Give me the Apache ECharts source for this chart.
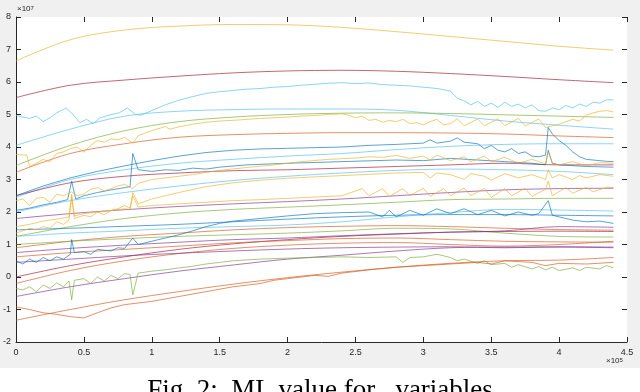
<!DOCTYPE html>
<html><head><meta charset="utf-8">
<script src="https://cdn.jsdelivr.net/npm/echarts@6/dist/echarts.min.js"></script>
<style>html,body{margin:0;padding:0;background:#fff}#c{width:640px;height:392px}</style>
</head><body><div id="c"></div>
<script>
// x in units of 1e5, y in units of 1e7
const xCoarse = [0, 0.4, 0.8, 1.2, 1.6, 2.0, 2.4, 2.8, 3.2, 3.6, 4.0, 4.4];

const yellowTop  = [6.65, 7.3, 7.6, 7.72, 7.77, 7.76, 7.68, 7.55, 7.4, 7.25, 7.1, 6.98];
const darkRedTop = [5.52, 5.9, 6.06, 6.18, 6.28, 6.34, 6.36, 6.33, 6.26, 6.17, 6.07, 5.98];
const lightBlueD = [4.05, 4.55, 4.95, 5.1, 5.15, 5.17, 5.17, 5.13, 4.97, 4.8, 4.67, 4.55];
const greenE     = [3.43, 4.05, 4.5, 4.78, 4.92, 5.0, 5.04, 5.05, 5.03, 4.99, 4.95, 4.91];
const orangeG    = [3.22, 3.8, 4.1, 4.3, 4.38, 4.42, 4.44, 4.44, 4.43, 4.4, 4.34, 4.29];
const lightBlueI = [2.45, 3.0, 3.3, 3.5, 3.62, 3.72, 3.8, 3.92, 4.02, 4.08, 4.1, 4.1];
const darkRedL   = [2.5, 2.9, 3.1, 3.2, 3.27, 3.3, 3.35, 3.4, 3.45, 3.5, 3.45, 3.45];
const lightBlueM = [2.0, 2.35, 2.6, 2.8, 2.97, 3.1, 3.2, 3.28, 3.32, 3.3, 3.25, 3.15];
const purpleP    = [1.8, 1.95, 2.07, 2.17, 2.25, 2.32, 2.4, 2.5, 2.6, 2.68, 2.72, 2.73];
const greenQ     = [1.25, 1.55, 1.8, 1.97, 2.08, 2.15, 2.22, 2.3, 2.38, 2.4, 2.42, 2.42];
const blueR      = [1.45, 1.5, 1.56, 1.62, 1.7, 1.78, 1.85, 1.9, 1.92, 1.92, 1.9, 1.88];
const lightBlueS = [1.25, 1.35, 1.42, 1.5, 1.55, 1.6, 1.7, 1.85, 1.98, 2.08, 2.06, 2.03];
const orangeT    = [0.9, 1.1, 1.25, 1.35, 1.45, 1.52, 1.56, 1.58, 1.55, 1.5, 1.46, 1.44];
const greenV     = [1.0, 1.1, 1.18, 1.25, 1.3, 1.35, 1.42, 1.5, 1.48, 1.35, 1.25, 1.23];
const darkRedW   = [0.0, 0.35, 0.62, 0.85, 1.02, 1.15, 1.25, 1.32, 1.38, 1.4, 1.41, 1.4];
const purpleX    = [0.75, 0.88, 0.98, 1.07, 1.15, 1.2, 1.27, 1.33, 1.38, 1.42, 1.55, 1.53];
const orangeY    = [0.62, 0.75, 0.85, 0.95, 1.05, 1.12, 1.18, 1.2, 1.15, 1.1, 1.08, 1.07];
const redZ       = [-0.2, 0.2, 0.5, 0.72, 0.88, 0.98, 1.04, 1.06, 1.0, 0.95, 1.0, 1.1];
const purpleAA   = [0.45, 0.55, 0.65, 0.73, 0.8, 0.86, 0.9, 0.92, 0.93, 0.9, 0.93, 0.92];
const purpleAB   = [-0.6, -0.3, -0.05, 0.18, 0.37, 0.55, 0.67, 0.8, 0.9, 0.92, 0.92, 0.9];
const orangeAE   = [-1.33, -1.0, -0.7, -0.45, -0.22, -0.02, 0.15, 0.3, 0.42, 0.5, 0.52, 0.6];

// noisy series as [x, y] pairs
const lightBlueC = [[0,4.97],[0.05,4.92],[0.1,4.88],[0.15,4.95],[0.2,4.78],[0.25,4.9],[0.3,5.05],[0.37,5.2],[0.42,5.0],[0.47,4.75],[0.52,4.85],[0.57,4.72],[0.62,4.9],[0.7,5.0],[0.76,5.05],[0.82,5.2],[0.88,5.0],[0.92,4.98],[1.0,5.12],[1.1,5.3],[1.2,5.44],[1.3,5.55],[1.4,5.65],[1.5,5.7],[1.6,5.74],[1.7,5.78],[1.8,5.8],[1.9,5.84],[2.0,5.86],[2.1,5.9],[2.2,5.93],[2.3,5.96],[2.4,5.98],[2.5,5.95],[2.6,5.97],[2.7,5.92],[2.8,5.9],[2.9,5.88],[3.0,5.84],[3.1,5.8],[3.2,5.72],[3.25,5.5],[3.3,5.42],[3.35,5.3],[3.4,5.4],[3.45,5.25],[3.5,5.35],[3.55,5.22],[3.6,5.38],[3.65,5.25],[3.7,5.32],[3.75,5.2],[3.8,5.3],[3.85,5.12],[3.9,5.1],[3.95,5.2],[4.0,5.15],[4.05,5.28],[4.1,5.2],[4.15,5.32],[4.2,5.25],[4.25,5.38],[4.3,5.35],[4.35,5.45],[4.4,5.45]];
const yellowF = [[0,3.77],[0.08,3.75],[0.1,3.4],[0.15,3.5],[0.2,3.62],[0.25,3.55],[0.3,3.8],[0.35,3.85],[0.4,3.95],[0.45,4.0],[0.5,3.84],[0.55,4.05],[0.6,4.2],[0.65,4.15],[0.7,4.25],[0.75,4.22],[0.8,4.3],[0.86,4.12],[0.9,4.35],[1.0,4.5],[1.1,4.63],[1.13,4.55],[1.2,4.62],[1.3,4.7],[1.4,4.76],[1.5,4.8],[1.6,4.82],[1.7,4.85],[1.8,4.88],[1.9,4.9],[2.0,4.92],[2.1,4.95],[2.2,4.97],[2.3,5.0],[2.4,5.02],[2.45,4.98],[2.5,4.9],[2.55,4.95],[2.6,4.82],[2.65,4.85],[2.7,4.76],[2.75,4.82],[2.8,4.78],[2.85,4.85],[2.9,4.72],[2.95,4.75],[3.0,4.68],[3.05,4.78],[3.1,4.85],[3.15,4.68],[3.2,4.72],[3.25,4.87],[3.3,4.65],[3.4,4.86],[3.45,4.65],[3.55,4.87],[3.6,4.66],[3.7,4.88],[3.75,4.65],[3.85,4.86],[3.9,4.6],[4.0,4.7],[4.05,4.78],[4.1,4.85],[4.15,4.8],[4.2,4.98],[4.25,5.05],[4.3,5.1],[4.35,5.12],[4.4,5.08]];
const blueH = [[0,2.5],[0.2,2.8],[0.4,3.05],[0.6,3.25],[0.8,3.42],[1.0,3.58],[1.2,3.72],[1.4,3.83],[1.6,3.9],[1.8,3.94],[2.0,3.96],[2.2,3.98],[2.4,4.0],[2.6,4.05],[2.8,4.08],[2.9,4.1],[3.0,4.12],[3.05,4.22],[3.1,4.12],[3.2,4.18],[3.25,4.28],[3.3,4.15],[3.4,4.1],[3.45,3.95],[3.5,4.05],[3.55,3.9],[3.6,3.85],[3.65,3.95],[3.7,3.8],[3.75,3.85],[3.8,3.72],[3.85,3.7],[3.9,3.75],[3.92,4.6],[3.95,4.4],[4.0,4.2],[4.05,4.05],[4.1,3.85],[4.15,3.7],[4.2,3.62],[4.25,3.6],[4.3,3.58],[4.35,3.56],[4.4,3.55]];
const blueJ = [[0,2.05],[0.1,2.12],[0.2,2.22],[0.3,2.3],[0.38,2.38],[0.41,2.95],[0.44,2.4],[0.5,2.5],[0.6,2.6],[0.7,2.68],[0.8,2.75],[0.84,2.78],[0.86,3.8],[0.9,3.3],[1.0,3.25],[1.1,3.3],[1.2,3.28],[1.3,3.35],[1.4,3.32],[1.5,3.38],[1.7,3.45],[2.0,3.5],[2.4,3.55],[2.8,3.6],[3.0,3.58],[3.2,3.65],[3.4,3.6],[3.6,3.55],[3.8,3.5],[3.9,3.45],[3.92,3.9],[3.95,3.5],[4.0,3.45],[4.2,3.4],[4.4,3.38]];
const yellowK = [[0,2.35],[0.05,2.4],[0.1,2.2],[0.15,2.42],[0.2,2.45],[0.25,2.3],[0.3,2.55],[0.35,2.5],[0.41,2.62],[0.45,2.5],[0.5,2.55],[0.55,2.7],[0.6,2.75],[0.65,2.65],[0.7,2.72],[0.75,2.8],[0.8,2.85],[0.86,2.72],[0.9,2.88],[1.0,3.0],[1.1,3.05],[1.2,3.1],[1.3,3.15],[1.4,3.22],[1.5,3.28],[1.7,3.37],[1.9,3.45],[2.1,3.55],[2.3,3.62],[2.5,3.66],[2.6,3.7],[2.7,3.68],[2.8,3.74],[2.9,3.65],[3.0,3.72],[3.05,3.6],[3.1,3.75],[3.2,3.58],[3.3,3.7],[3.35,3.55],[3.45,3.72],[3.5,3.55],[3.6,3.68],[3.7,3.5],[3.8,3.62],[3.9,3.48],[3.92,3.85],[3.95,3.5],[4.0,3.45],[4.1,3.55],[4.2,3.42],[4.3,3.52],[4.4,3.5]];
const yellowN = [[0,1.35],[0.05,1.42],[0.1,1.5],[0.15,1.45],[0.2,1.55],[0.25,1.5],[0.3,1.7],[0.35,1.62],[0.39,1.75],[0.41,2.45],[0.43,1.8],[0.5,1.9],[0.55,1.85],[0.6,2.0],[0.65,1.92],[0.7,2.05],[0.75,2.1],[0.8,2.2],[0.84,2.12],[0.86,2.6],[0.9,2.25],[1.0,2.4],[1.1,2.5],[1.2,2.6],[1.4,2.78],[1.6,2.9],[1.8,2.98],[2.0,3.04],[2.2,3.08],[2.4,3.12],[2.6,3.16],[2.8,3.2],[3.0,3.22],[3.05,3.05],[3.1,3.2],[3.2,3.15],[3.3,3.0],[3.35,3.18],[3.45,3.1],[3.5,2.98],[3.6,3.18],[3.7,3.05],[3.8,3.15],[3.9,3.0],[3.92,3.3],[3.95,3.05],[4.0,3.15],[4.1,3.0],[4.15,3.12],[4.2,3.05],[4.3,3.15],[4.4,3.1]];
const yellowO = [[0,1.55],[0.1,1.62],[0.2,1.72],[0.3,1.78],[0.39,1.85],[0.41,2.55],[0.43,1.88],[0.5,1.95],[0.6,2.0],[0.7,2.05],[0.8,2.1],[0.84,2.08],[0.86,2.5],[0.9,2.15],[1.0,2.2],[1.2,2.25],[1.4,2.3],[1.6,2.35],[1.8,2.38],[2.0,2.42],[2.2,2.46],[2.4,2.5],[2.55,2.72],[2.6,2.5],[2.7,2.72],[2.75,2.48],[2.85,2.72],[2.9,2.5],[3.0,2.73],[3.05,2.48],[3.15,2.72],[3.2,2.5],[3.3,2.74],[3.35,2.5],[3.45,2.73],[3.5,2.45],[3.6,2.72],[3.65,2.5],[3.75,2.73],[3.8,2.48],[3.9,2.7],[3.92,2.95],[3.95,2.5],[4.05,2.75],[4.1,2.58],[4.2,2.76],[4.25,2.62],[4.35,2.76],[4.4,2.75]];
const blueU = [[0,0.5],[0.05,0.4],[0.1,0.55],[0.15,0.45],[0.2,0.6],[0.25,0.5],[0.3,0.62],[0.35,0.55],[0.4,0.7],[0.41,1.15],[0.43,0.75],[0.5,0.78],[0.55,0.7],[0.6,0.85],[0.7,0.8],[0.75,0.9],[0.8,0.88],[0.86,1.2],[0.9,1.0],[1.0,1.1],[1.1,1.2],[1.2,1.3],[1.3,1.42],[1.4,1.55],[1.5,1.65],[1.6,1.72],[1.8,1.8],[2.0,1.88],[2.2,1.95],[2.4,1.98],[2.6,2.0],[2.7,1.85],[2.75,2.05],[2.8,1.85],[2.9,2.05],[3.0,1.9],[3.1,2.1],[3.2,1.95],[3.3,2.1],[3.4,1.92],[3.5,2.05],[3.6,1.88],[3.7,2.0],[3.8,1.9],[3.85,1.95],[3.92,2.35],[3.95,1.9],[4.0,1.85],[4.1,1.75],[4.2,1.7],[4.3,1.72],[4.4,1.65]];
const greenAC = [[0,-0.35],[0.05,-0.4],[0.1,-0.3],[0.15,-0.45],[0.2,-0.25],[0.25,-0.35],[0.3,-0.18],[0.35,-0.3],[0.39,-0.12],[0.41,-0.7],[0.43,-0.1],[0.5,-0.05],[0.55,-0.2],[0.6,0.0],[0.65,-0.12],[0.7,0.05],[0.75,-0.05],[0.8,0.1],[0.84,0.08],[0.86,-0.55],[0.9,0.12],[1.0,0.18],[1.1,0.22],[1.2,0.28],[1.3,0.33],[1.4,0.4],[1.5,0.45],[1.6,0.5],[1.8,0.55],[2.0,0.58],[2.2,0.6],[2.4,0.62],[2.6,0.6],[2.8,0.62],[2.85,0.45],[2.9,0.6],[3.0,0.62],[3.1,0.7],[3.2,0.6],[3.25,0.5],[3.3,0.55],[3.4,0.42],[3.45,0.5],[3.5,0.38],[3.6,0.42],[3.65,0.3],[3.7,0.38],[3.8,0.25],[3.85,0.32],[3.9,0.22],[3.95,0.3],[4.0,0.2],[4.1,0.28],[4.15,0.2],[4.2,0.3],[4.3,0.25],[4.35,0.35],[4.4,0.28]];
const orangeAD = [[0,-0.92],[0.1,-1.0],[0.2,-1.1],[0.3,-1.15],[0.4,-1.22],[0.5,-1.26],[0.6,-1.1],[0.7,-0.95],[0.8,-0.85],[1.0,-0.75],[1.2,-0.6],[1.4,-0.45],[1.6,-0.3],[1.8,-0.2],[1.9,-0.1],[2.0,-0.05],[2.2,0.05],[2.3,0.02],[2.4,0.12],[2.6,0.22],[2.8,0.3],[3.0,0.35],[3.2,0.4],[3.4,0.45],[3.5,0.4],[3.6,0.5],[3.8,0.45],[3.9,0.35],[4.0,0.42],[4.2,0.4],[4.4,0.45]];

const C = {blue:'#0072BD', orange:'#D95319', yellow:'#EDB120', purple:'#7E2F8E', green:'#77AC30', lightblue:'#4DBEEE', darkred:'#A2142F'};

const coarseList = [
  [yellowTop,'yellow'],[darkRedTop,'darkred'],[lightBlueD,'lightblue'],[greenE,'green'],[orangeG,'orange'],
  [lightBlueI,'lightblue'],[darkRedL,'darkred'],[lightBlueM,'lightblue'],[purpleP,'purple'],[greenQ,'green'],
  [blueR,'blue'],[lightBlueS,'lightblue'],[orangeT,'orange'],[greenV,'green'],[darkRedW,'darkred'],
  [purpleX,'purple'],[orangeY,'orange'],[redZ,'orange'],[purpleAA,'purple'],[purpleAB,'purple'],[orangeAE,'orange']
];
const pairList = [
  [lightBlueC,'lightblue'],[yellowF,'yellow'],[blueH,'blue'],[blueJ,'blue'],[yellowK,'yellow'],
  [yellowN,'yellow'],[yellowO,'yellow'],[blueU,'blue'],[greenAC,'green'],[orangeAD,'orange']
];

const series = [];
coarseList.forEach(([arr, c]) => series.push({
  type:'line', data: xCoarse.map((x,i)=>[x, arr[i]]), smooth:0.35, showSymbol:false,
  lineStyle:{color:C[c], width:1, opacity:0.65}, silent:true
}));
pairList.forEach(([arr, c]) => series.push({
  type:'line', data: arr, showSymbol:false,
  lineStyle:{color:C[c], width:1, opacity:0.65}, silent:true
}));

const axisFont = {fontFamily:'Liberation Sans', fontSize:9, color:'#262626'};
const chart = echarts.init(document.getElementById('c'), null, {renderer:'canvas'});
chart.setOption({
  animation:false,
  backgroundColor:'#ffffff',
  grid:{left:16, right:13, top:17, bottom:50, show:true, backgroundColor:'#ffffff', borderWidth:0},
  xAxis:[
    {type:'value', min:0, max:4.5, interval:0.5, position:'bottom',
     axisLine:{show:true, onZero:false, lineStyle:{color:'#262626', width:1}},
     axisTick:{inside:true, length:5, lineStyle:{color:'#262626'}},
     axisLabel:Object.assign({margin:6}, axisFont), splitLine:{show:false}},
    {type:'value', min:0, max:4.5, interval:0.5, position:'top',
     axisLine:{show:false, onZero:false}, axisTick:{show:true, inside:true, length:5, lineStyle:{color:'#262626'}},
     axisLabel:{show:false}, splitLine:{show:false}}
  ],
  yAxis:[
    {type:'value', min:-2, max:8, interval:1, position:'left',
     axisLine:{show:true, onZero:false, lineStyle:{color:'#262626', width:1}},
     axisTick:{inside:true, length:5, lineStyle:{color:'#262626'}},
     axisLabel:Object.assign({margin:5}, axisFont), splitLine:{show:false}},
    {type:'value', min:-2, max:8, interval:1, position:'right',
     axisLine:{show:false, onZero:false}, axisTick:{show:true, inside:true, length:5, lineStyle:{color:'#262626'}},
     axisLabel:{show:false}, splitLine:{show:false}}
  ],
  graphic:[
    {type:'rect', z:-100, silent:true, shape:{x:0, y:0, width:640, height:368}, style:{fill:'#f0f0f0'}},
    {type:'text', left:17, top:5, z:10, style:{text:'×10{s|7}', rich:{s:{fontSize:6, verticalAlign:'top', fontFamily:'Liberation Sans', fill:'#262626'}}, fontSize:8, fontFamily:'Liberation Sans', fill:'#262626'}},
    {type:'text', left:606, top:357, z:10, style:{text:'×10{s|5}', rich:{s:{fontSize:6, verticalAlign:'top', fontFamily:'Liberation Sans', fill:'#262626'}}, fontSize:8, fontFamily:'Liberation Sans', fill:'#262626'}},
    {type:'text', left:'center', top:377, z:10, style:{text:'Fig. 2:  ML value for   variables', fontSize:27, fontFamily:'Liberation Serif', fill:'#000'}}
  ],
  series: series
});
</script>
</body></html>
